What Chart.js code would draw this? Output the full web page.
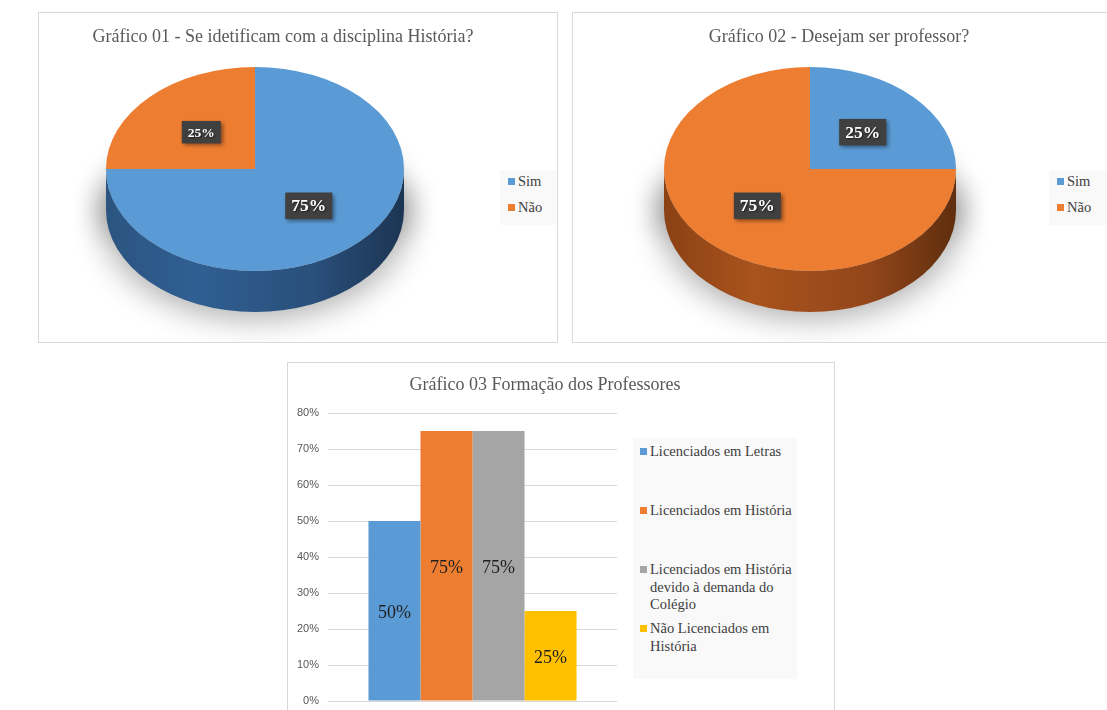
<!DOCTYPE html>
<html>
<head>
<meta charset="utf-8">
<script src="https://cdn.jsdelivr.net/npm/chart.js"></script>
<style>
  body { margin: 0; background: #fff; width: 1107px; height: 710px; overflow: hidden; position: relative; }
  .box { position: absolute; box-sizing: border-box; border: 1px solid #d9d9d9; background: #fff; }
  .box canvas { position: absolute; left: 0; top: 0; }
  .title { position: absolute; text-align: center; font-family: "Liberation Serif", "Times New Roman", serif; font-size: 18px; line-height: 22px; color: #595959; white-space: nowrap; }
  .legend { position: absolute; background: #f9f9f9; font-family: "Liberation Serif", "Times New Roman", serif; font-size: 14.5px; color: #404040; }
  .legend .item { position: relative; padding-left: 10px; line-height: 17.5px; }
  .legend .item i { position: absolute; left: 0; top: 5px; width: 7px; height: 7px; }
</style>
</head>
<body>

<div class="box" id="box1" style="left:38px; top:12px; width:520px; height:331px;">
  <canvas id="pie1" width="518" height="329"></canvas>
</div>
<div class="box" id="box2" style="left:572px; top:12px; width:545px; height:331px;">
  <canvas id="pie2" width="543" height="329"></canvas>
</div>
<div class="box" id="box3" style="left:287px; top:362px; width:548px; height:360px;">
  <canvas id="bars" width="546" height="358"></canvas>
</div>

<script>
// ---- data ----
const pieLabels = ['Sim', 'Não'];
const pie1Title = 'Gráfico 01 - Se idetificam com a disciplina História?';
const pie1Values = [75, 25];
const pie2Title = 'Gráfico 02 - Desejam ser professor?';
const pie2Values = [25, 75];

const barTitle = 'Gráfico 03 Formação dos Professores';
const barSeries = ['Licenciados em Letras', 'Licenciados em História',
  'Licenciados em História devido à demanda do Colégio', 'Não Licenciados em História'];
const barValues = [0.50, 0.75, 0.75, 0.25];
const yMax = 0.8;
const yStep = 0.1;

const pieColors = ['#5b9bd5', '#ed7d31'];
const pieSides = [
  ['#2b5480', '#305f93', '#294f7a', '#1c3553'],
  ['#8a4114', '#a9531d', '#93461a', '#5f2e0e']
];
const barColors = ['#5b9bd5', '#ed7d31', '#a5a5a5', '#ffc000'];

const serif = '"Liberation Serif", "Times New Roman", serif';

function addTitle(text, cx, cy) {
  const d = document.createElement('div');
  d.className = 'title';
  d.textContent = text;
  d.style.left = (cx - 300) + 'px';
  d.style.width = '600px';
  d.style.top = (cy - 11) + 'px';
  document.body.appendChild(d);
}

function addLegend(labels, colors, left, top, width, slot, pad) {
  const lg = document.createElement('div');
  lg.className = 'legend';
  lg.style.left = left + 'px';
  lg.style.top = top + 'px';
  lg.style.width = width + 'px';
  lg.style.padding = pad;
  labels.forEach((t, i) => {
    const it = document.createElement('div');
    it.className = 'item';
    it.style.height = slot + 'px';
    it.innerHTML = '<i style="background:' + colors[i] + '"></i>';
    it.appendChild(document.createTextNode(t));
    lg.appendChild(it);
  });
  document.body.appendChild(lg);
}

// 3D look for the pies: side band + shadow, squashed top, boxed labels
const pie3d = {
  id: 'pie3d',
  beforeDatasetsDraw(chart, args, opts) {
    const ctx = chart.ctx;
    const arcs = chart.getDatasetMeta(0).data;
    const cx = arcs[0].x, cy = arcs[0].y, R = arcs[0].outerRadius;
    const ry = R * opts.tilt, d = opts.depth;

    // soft grey shadow only (shape itself drawn off-canvas)
    const off = 5000;
    ctx.save();
    ctx.shadowColor = 'rgba(0,0,0,0.3)';
    ctx.shadowBlur = 30;
    ctx.shadowOffsetX = off;
    ctx.shadowOffsetY = 8;
    ctx.fillStyle = '#000';
    ctx.beginPath();
    ctx.ellipse(cx - off, cy + d, R + 4, ry, 0, 0, Math.PI * 2);
    ctx.fill();
    ctx.beginPath();
    ctx.rect(cx - off - R - 4, cy + 10, 2 * R + 8, d);
    ctx.fill();
    ctx.restore();

    arcs.forEach((arc, i) => {
      const a1 = Math.max(arc.startAngle, 0);
      const a2 = Math.min(arc.endAngle, Math.PI);
      if (a2 <= a1) return;
      const s = opts.sides[i];
      const g = ctx.createLinearGradient(cx - R, 0, cx + R, 0);
      g.addColorStop(0, s[0]);
      g.addColorStop(0.3, s[1]);
      g.addColorStop(0.7, s[2]);
      g.addColorStop(1, s[3]);
      ctx.fillStyle = g;
      ctx.beginPath();
      ctx.ellipse(cx, cy, R, ry, 0, a1, a2);
      ctx.ellipse(cx, cy + d, R, ry, 0, a2, a1, true);
      ctx.closePath();
      ctx.fill();
    });

    ctx.save();
    ctx.translate(0, cy);
    ctx.scale(1, opts.tilt);
    ctx.translate(0, -cy);
  },
  afterDatasetsDraw(chart, args, opts) {
    const ctx = chart.ctx;
    ctx.restore();
    const arcs = chart.getDatasetMeta(0).data;
    const values = chart.data.datasets[0].data;
    arcs.forEach((arc, i) => {
      const mid = (arc.startAngle + arc.endAngle) / 2;
      const r = arc.outerRadius * 0.51;
      const x = arc.x + r * Math.cos(mid);
      const y = arc.y + r * Math.sin(mid) * opts.tilt;
      const size = opts.fontSizes[i];
      const text = values[i] + '%';
      ctx.save();
      ctx.font = 'bold ' + size + 'px ' + serif;
      const w = ctx.measureText(text).width + 12;
      const h = size + 9;
      ctx.shadowColor = 'rgba(0,0,0,0.45)';
      ctx.shadowBlur = 4;
      ctx.shadowOffsetX = 2;
      ctx.shadowOffsetY = 2;
      ctx.fillStyle = '#404040';
      ctx.fillRect(x - w / 2, y - h / 2, w, h);
      ctx.shadowColor = 'rgba(0,0,0,0.6)';
      ctx.shadowBlur = 2;
      ctx.shadowOffsetX = 1;
      ctx.shadowOffsetY = 1;
      ctx.fillStyle = '#ffffff';
      ctx.textAlign = 'center';
      ctx.textBaseline = 'middle';
      ctx.fillText(text, x, y + 1);
      ctx.restore();
    });
  }
};

function makePie(id, values, pad, tilt, fontSizes) {
  return new Chart(document.getElementById(id), {
    type: 'pie',
    data: {
      labels: pieLabels,
      datasets: [{ data: values, backgroundColor: pieColors, borderWidth: 0, clip: false }]
    },
    options: {
      responsive: false,
      animation: false,
      layout: { padding: pad },
      plugins: {
        legend: { display: false },
        tooltip: { enabled: false },
        pie3d: { tilt: tilt, depth: 41, sides: pieSides, fontSizes: fontSizes }
      }
    },
    plugins: [pie3d]
  });
}

makePie('pie1', pie1Values, { left: 67, right: 153, top: 7, bottom: 24 }, 102 / 149, [17.5, 13.5]);
makePie('pie2', pie2Values, { left: 91, right: 160, top: 10, bottom: 27 }, 102 / 146, [17.5, 17.5]);

addTitle(pie1Title, 283, 36);
addTitle(pie2Title, 839, 36);
addTitle(barTitle, 545, 384);

addLegend(pieLabels, pieColors, 500, 170, 48, 26, '3px 0 0 8px');
addLegend(pieLabels, pieColors, 1049, 170, 58, 26, '3px 0 0 8px');

// bar chart labels in the middle of each bar
const barLabels = {
  id: 'barLabels',
  afterDatasetsDraw(chart) {
    const ctx = chart.ctx;
    ctx.save();
    ctx.font = '18px ' + serif;
    ctx.fillStyle = '#1f1f1f';
    ctx.textAlign = 'center';
    ctx.textBaseline = 'middle';
    chart.data.datasets.forEach((ds, i) => {
      const bar = chart.getDatasetMeta(i).data[0];
      ctx.fillText(Math.round(ds.data[0] * 100) + '%', bar.x, (bar.y + bar.base) / 2 + 3);
    });
    ctx.restore();
  }
};

new Chart(document.getElementById('bars'), {
  type: 'bar',
  data: {
    labels: [''],
    datasets: barSeries.map((name, i) => ({
      label: name,
      data: [barValues[i]],
      backgroundColor: barColors[i],
      barPercentage: 1,
      categoryPercentage: 0.72
    }))
  },
  options: {
    responsive: false,
    animation: false,
    layout: { padding: { left: 0, right: 217, top: 50, bottom: 20 } },
    scales: {
      x: { display: false },
      y: {
        min: 0,
        max: yMax,
        ticks: {
          stepSize: yStep,
          padding: 9,
          color: '#595959',
          font: { family: '"Liberation Sans", Arial, sans-serif', size: 11 },
          callback: v => Math.round(v * 100) + '%'
        },
        grid: { color: '#d9d9d9', drawTicks: false },
        border: { display: false },
        afterFit: s => { s.width = 40; }
      }
    },
    plugins: { legend: { display: false }, tooltip: { enabled: false } }
  },
  plugins: [barLabels]
});

addLegend(barSeries, barColors, 633, 438, 157, 59, '5px 0 0 7px');
</script>
</body>
</html>
